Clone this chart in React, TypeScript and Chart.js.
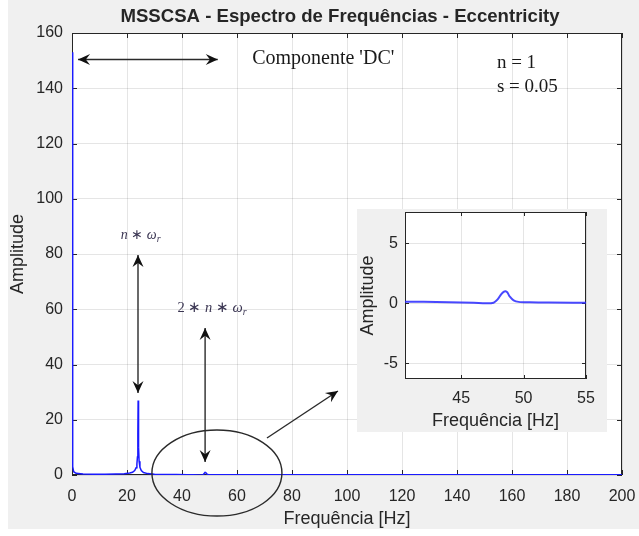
import React, { useEffect, useRef } from "react";
import { Chart, registerables } from "chart.js";

Chart.register(...registerables);

// ---- data ----
const spectrumFreqs = [
  0, 0.25, 0.6, 1.5, 4, 8, 12, 16, 19, 21, 22, 22.8, 23.3, 23.6, 23.8, 23.95, 24.05, 24.2, 24.4, 24.7,
  25.2, 26, 27.5, 30, 34, 38, 42, 44, 46, 47, 47.6, 47.9, 48.2, 48.4, 48.55, 48.7, 48.9, 49.2, 49.6,
  50.5, 52, 56, 65, 80, 100, 120, 140, 160, 180, 200,
];
const spectrumAmps = [
  153, 3, 1.2, 0.6, 0.4, 0.3, 0.3, 0.35, 0.45, 0.7, 1.0, 1.6, 2.6, 4.0, 6.5, 15, 27, 10, 5, 2.8,
  1.6, 0.9, 0.5, 0.3, 0.2, 0.15, 0.12, 0.08, 0.04, 0.0, 0.05, 0.3, 0.75, 0.95, 1.0, 0.9, 0.55, 0.25, 0.12,
  0.08, 0.06, 0.05, 0.05, 0.05, 0.05, 0.05, 0.05, 0.05, 0.05, 0.05,
];
const mainXTicks = [0, 20, 40, 60, 80, 100, 120, 140, 160, 180, 200];
const mainYTicks = [0, 20, 40, 60, 80, 100, 120, 140, 160];
const insetXTicks = [45, 50, 55];
const insetYTicks = [-5, 0, 5];

const titleText = "MSSCSA - Espectro de Frequências - Eccentricity";
const xTitleText = "Frequência [Hz]";
const yTitleText = "Amplitude";
const dcLabel = "Componente 'DC'";
const paramLabels = ["n = 1", "s = 0.05"];

const SANS = "'Liberation Sans', Arial, Helvetica, sans-serif";
const SERIF = "'Liberation Serif', 'Times New Roman', serif";
const AXIS_COLOR = "#262626";
const GRID_COLOR = "rgba(38,38,38,0.12)";
const LINE_COLOR = "#1a1aff";

function matlabAxesPlugin(xt: number[], yt: number[], tickLen: number) {
  return {
    id: "matlabAxes",
    beforeDatasetsDraw(chart: any) {
      const { ctx, chartArea: a, scales } = chart;
      ctx.save();
      ctx.strokeStyle = AXIS_COLOR;
      ctx.lineWidth = 1;
      ctx.beginPath();
      for (const v of xt) {
        const px = Math.round(scales.x.getPixelForValue(v)) + 0.5;
        ctx.moveTo(px, a.bottom);
        ctx.lineTo(px, a.bottom - tickLen);
        ctx.moveTo(px, a.top);
        ctx.lineTo(px, a.top + tickLen);
      }
      for (const v of yt) {
        const py = Math.round(scales.y.getPixelForValue(v)) + 0.5;
        ctx.moveTo(a.left, py);
        ctx.lineTo(a.left + tickLen, py);
        ctx.moveTo(a.right, py);
        ctx.lineTo(a.right - tickLen, py);
      }
      ctx.stroke();
      ctx.strokeRect(Math.round(a.left) + 0.5, Math.round(a.top) + 0.5, Math.round(a.right - a.left) - 1, Math.round(a.bottom - a.top) - 1);
      ctx.restore();
    },
  };
}

function backgroundPlugin(x0: number, y0: number, w: number, h: number) {
  return {
    id: "bg",
    beforeDraw(chart: any) {
      const { ctx, chartArea: a } = chart;
      ctx.save();
      ctx.fillStyle = "#f0f0f0";
      ctx.fillRect(x0, y0, w, h);
      ctx.fillStyle = "#ffffff";
      ctx.fillRect(a.left, a.top, a.right - a.left, a.bottom - a.top);
      ctx.restore();
    },
  };
}

function axisTitlesPlugin(yTitleX: number, xTitleY: number, title?: { text: string; x: number; y: number }) {
  return {
    id: "axisTitles",
    afterDraw(chart: any) {
      const { ctx, chartArea: a } = chart;
      ctx.save();
      ctx.fillStyle = AXIS_COLOR;
      ctx.textAlign = "center";
      ctx.textBaseline = "middle";
      ctx.font = `18px ${SANS}`;
      ctx.fillText(xTitleText, (a.left + a.right) / 2, xTitleY);
      ctx.save();
      ctx.translate(yTitleX, (a.top + a.bottom) / 2);
      ctx.rotate(-Math.PI / 2);
      ctx.fillText(yTitleText, 0, 0);
      ctx.restore();
      if (title) {
        ctx.font = `bold 18.6px ${SANS}`;
        ctx.fillText(title.text, title.x, title.y);
      }
      ctx.restore();
    },
  };
}

function arrowHead(ctx: CanvasRenderingContext2D, x1: number, y1: number, x2: number, y2: number, len = 12, w = 5.5) {
  const ang = Math.atan2(y2 - y1, x2 - x1);
  const c = Math.cos(ang);
  const s = Math.sin(ang);
  const bx = x2 - c * len;
  const by = y2 - s * len;
  const nx = x2 - c * len * 0.65;
  const ny = y2 - s * len * 0.65;
  ctx.beginPath();
  ctx.moveTo(x2, y2);
  ctx.lineTo(bx - s * w, by + c * w);
  ctx.lineTo(nx, ny);
  ctx.lineTo(bx + s * w, by - c * w);
  ctx.closePath();
  ctx.fill();
}

function arrow(ctx: CanvasRenderingContext2D, x1: number, y1: number, x2: number, y2: number, double: boolean) {
  ctx.beginPath();
  ctx.moveTo(x1, y1);
  ctx.lineTo(x2, y2);
  ctx.stroke();
  arrowHead(ctx, x1, y1, x2, y2);
  if (double) arrowHead(ctx, x2, y2, x1, y1);
}

type Piece = { t: string; italic?: boolean; sub?: boolean };
function mathText(ctx: CanvasRenderingContext2D, pieces: Piece[], cx: number, cy: number, size: number) {
  const fontOf = (p: Piece) => `${p.italic ? "italic " : ""}${p.sub ? Math.round(size * 0.7) : size}px ${SERIF}`;
  let total = 0;
  for (const p of pieces) {
    ctx.font = fontOf(p);
    total += ctx.measureText(p.t).width;
  }
  let x = cx - total / 2;
  ctx.textAlign = "left";
  ctx.textBaseline = "middle";
  for (const p of pieces) {
    ctx.font = fontOf(p);
    ctx.fillText(p.t, x, p.sub ? cy + size * 0.3 : cy);
    x += ctx.measureText(p.t).width;
  }
}

const annotationsPlugin = {
  id: "annotations",
  afterDraw(chart: any) {
    const { ctx, scales } = chart;
    const X = (v: number) => scales.x.getPixelForValue(v);
    const Y = (v: number) => scales.y.getPixelForValue(v);
    ctx.save();
    ctx.strokeStyle = "#2a2a2a";
    ctx.fillStyle = "#111";
    ctx.lineWidth = 1.4;
    // DC arrow
    arrow(ctx, X(2.2), Y(150.4), X(53), Y(150.4), true);
    // vertical arrows to the peaks
    arrow(ctx, X(24), Y(79.6), X(24), Y(29.7), true);
    arrow(ctx, X(48.4), Y(53.2), X(48.4), Y(4.7), true);
    // ellipse around 2nd harmonic
    ctx.beginPath();
    ctx.ellipse(X(52.7), Y(0.7), 65, 43, 0, 0, Math.PI * 2);
    ctx.stroke();
    // pointer to inset
    arrow(ctx, X(70.9), Y(13.4), X(96.7), Y(30.4), false);

    // texts
    ctx.fillStyle = "#1a1a1a";
    ctx.font = `20px ${SERIF}`;
    ctx.textAlign = "left";
    ctx.textBaseline = "middle";
    ctx.fillText(dcLabel, X(65.5), Y(150.5));
    ctx.font = `19px ${SERIF}`;
    ctx.fillText(paramLabels[0], X(154.5), Y(149.1));
    ctx.fillText(paramLabels[1], X(154.5), Y(140.5));

    ctx.fillStyle = "#3a3552";
    mathText(ctx, [{ t: "n", italic: true }, { t: " ∗ " }, { t: "ω", italic: true }, { t: "r", italic: true, sub: true }], X(25), Y(86.9), 14);
    mathText(
      ctx,
      [{ t: "2 ∗ " }, { t: "n", italic: true }, { t: " ∗ " }, { t: "ω", italic: true }, { t: "r", italic: true, sub: true }],
      X(50.9),
      Y(60.5),
      14.5
    );
    ctx.restore();
  },
};

function fixedTicks(values: number[]) {
  return (scale: any) => {
    scale.ticks = values.map((v) => ({ value: v }));
  };
}

export default function App() {
  const mainRef = useRef<HTMLCanvasElement>(null);
  const insetRef = useRef<HTMLCanvasElement>(null);

  useEffect(() => {
    const pts = spectrumFreqs.map((f, i) => ({ x: f, y: spectrumAmps[i] }));
    const tickFont = { family: SANS, size: 16 };

    const main = new Chart(mainRef.current!, {
      type: "line",
      data: {
        datasets: [
          {
            data: pts,
            borderColor: LINE_COLOR,
            borderWidth: 1.5,
            pointRadius: 0,
            tension: 0,
            fill: false,
          },
        ],
      },
      options: {
        responsive: false,
        animation: false,
        events: [],
        layout: { padding: { top: 33, right: 17, left: 0, bottom: 0 } },
        plugins: { legend: { display: false }, tooltip: { enabled: false }, title: { display: false } },
        scales: {
          x: {
            type: "linear",
            min: 0,
            max: 200,
            afterBuildTicks: fixedTicks(mainXTicks),
            afterFit: (s: any) => {
              s.height = 61;
              s.paddingLeft = 0;
              s.paddingRight = 0;
            },
            grid: { color: GRID_COLOR, drawTicks: false },
            border: { display: false },
            ticks: { font: tickFont, color: AXIS_COLOR, padding: 12, maxRotation: 0, autoSkip: false },
          },
          y: {
            type: "linear",
            min: 0,
            max: 160,
            afterBuildTicks: fixedTicks(mainYTicks),
            afterFit: (s: any) => {
              s.width = 72;
              s.paddingTop = 0;
              s.paddingBottom = 0;
            },
            grid: { color: GRID_COLOR, drawTicks: false },
            border: { display: false },
            ticks: { font: tickFont, color: AXIS_COLOR, padding: 9, autoSkip: false },
          },
        },
      },
      plugins: [
        backgroundPlugin(8, 0, 631, 529),
        matlabAxesPlugin(mainXTicks, mainYTicks, 5),
        axisTitlesPlugin(18, 519, { text: titleText, x: 340, y: 17 }),
        annotationsPlugin,
      ],
    });

    const inset = new Chart(insetRef.current!, {
      type: "line",
      data: {
        datasets: [
          {
            data: pts,
            borderColor: "rgba(40,40,255,0.85)",
            borderWidth: 2,
            pointRadius: 0,
            tension: 0.3,
            fill: false,
          },
        ],
      },
      options: {
        responsive: false,
        animation: false,
        events: [],
        layout: { padding: { top: 3, right: 21, left: 0, bottom: 0 } },
        plugins: { legend: { display: false }, tooltip: { enabled: false }, title: { display: false } },
        scales: {
          x: {
            type: "linear",
            min: 40.5,
            max: 55,
            afterBuildTicks: fixedTicks(insetXTicks),
            afterFit: (s: any) => {
              s.height = 53;
              s.paddingLeft = 0;
              s.paddingRight = 0;
            },
            grid: { color: GRID_COLOR, drawTicks: false },
            border: { display: false },
            ticks: { font: tickFont, color: AXIS_COLOR, padding: 10, maxRotation: 0, autoSkip: false },
          },
          y: {
            type: "linear",
            min: -6.3,
            max: 7.6,
            afterBuildTicks: fixedTicks(insetYTicks),
            afterFit: (s: any) => {
              s.width = 48;
              s.paddingTop = 0;
              s.paddingBottom = 0;
            },
            grid: { color: GRID_COLOR, drawTicks: false },
            border: { display: false },
            ticks: { font: tickFont, color: AXIS_COLOR, padding: 7, autoSkip: false },
          },
        },
      },
      plugins: [backgroundPlugin(0, 0, 250, 223), matlabAxesPlugin(insetXTicks, insetYTicks, 4), axisTitlesPlugin(11, 212)],
    });

    return () => {
      main.destroy();
      inset.destroy();
    };
  }, []);

  return (
    <div style={{ position: "absolute", left: 0, top: 0, width: 639, height: 536 }}>
      <canvas ref={mainRef} width={639} height={536} style={{ position: "absolute", left: 0, top: 0 }} />
      <canvas ref={insetRef} width={250} height={223} style={{ position: "absolute", left: 357, top: 209 }} />
    </div>
  );
}
